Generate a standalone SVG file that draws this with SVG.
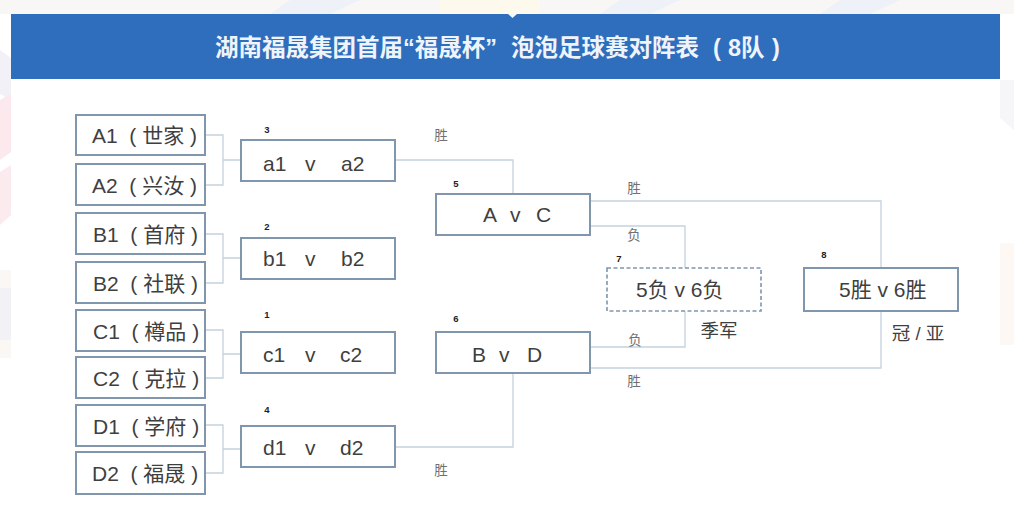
<svg xmlns="http://www.w3.org/2000/svg" width="1014" height="508" viewBox="0 0 1014 508">
<style>
text{font-family:"Liberation Sans","Noto Sans CJK SC",sans-serif;fill:#3f3f3f}
.box{fill:#fff;stroke:#7f96ad;stroke-width:2}
.dash{fill:#fff;stroke:#7f96ad;stroke-width:1.6;stroke-dasharray:4 2.5}
.t{font-size:21px}
.n{font-size:9.5px;font-weight:700;fill:#222;text-anchor:middle}
.l{font-size:13.5px;fill:#707070;text-anchor:middle}
.c{font-size:18.5px;text-anchor:middle}
.con{fill:none;stroke:#c4d2de;stroke-width:1.3}
</style>
<rect width="1014" height="508" fill="#fff"/>
<g id="background">
<rect x="0" y="0" width="1014" height="14" fill="#f9f7f5"/>
<path d="M290 0H360L330 14H270ZM620 0H680L650 14H600ZM840 0H900L870 14H820Z" fill="#eef1f7"/>
<path d="M440 0H540V14H440Z" fill="#fdf9ec"/>
<path d="M0 50L11 58V100L0 94Z" fill="#f3f1f8"/>
<path d="M0 100L11 93V152L0 160Z" fill="#fbe9ee"/>
<path d="M0 172L11 165V215L0 225Z" fill="#fbeaee"/>
<rect x="0" y="270" width="11" height="88" fill="#fbf7f5"/>
<rect x="0" y="288" width="11" height="52" fill="#f1f1f6"/>
<path d="M1000 80H1014V130L1000 118Z" fill="#f6f6f8"/>
<rect x="1000" y="243" width="14" height="102" fill="#fdf8f4"/>
</g>
<g id="title">
<rect x="11" y="14" width="989" height="65" fill="#2f6dbd"/>
<path d="M508 14H517L512.500 18Z" fill="#f4f7fb"/>
<text x="215" y="56" style="font-size:23.500px;font-weight:700;fill:#eef4fa">湖南福晟集团首届“福晟杯”<tspan x="511">泡泡足球赛对阵表</tspan><tspan x="713">(</tspan><tspan x="728">8队</tspan><tspan x="772">)</tspan></text>
</g>
<g id="connectors">
<path class="con" d="M205 135H223V185H205M223 160H241"/>
<path class="con" d="M205 234H223V283H205M223 258H241"/>
<path class="con" d="M205 330H223V378H205M223 354H241"/>
<path class="con" d="M205 425H223V473H205M223 449H241"/>
<path class="con" d="M395 160H513V194"/>
<path class="con" d="M395 447H513V373"/>
<path class="con" d="M590 201H881V268"/>
<path class="con" d="M590 226H685V268"/>
<path class="con" d="M590 347H685V311"/>
<path class="con" d="M590 368H881V311"/>
</g>
<g id="team-a1"><rect class="box" x="76" y="115" width="129" height="40"/><text class="t" x="92" y="143" xml:space="preserve">A1  ( 世家 )</text></g>
<g id="team-a2"><rect class="box" x="76" y="164" width="129" height="41"/><text class="t" x="92" y="193" xml:space="preserve">A2  ( 兴汝 )</text></g>
<g id="team-b1"><rect class="box" x="76" y="213" width="129" height="41"/><text class="t" x="93" y="242" xml:space="preserve">B1  ( 首府 )</text></g>
<g id="team-b2"><rect class="box" x="76" y="262" width="129" height="41"/><text class="t" x="93" y="291" xml:space="preserve">B2  ( 社联 )</text></g>
<g id="team-c1"><rect class="box" x="76" y="310" width="129" height="41"/><text class="t" x="93" y="339" xml:space="preserve">C1  ( 樽品 )</text></g>
<g id="team-c2"><rect class="box" x="76" y="357" width="129" height="41"/><text class="t" x="93" y="386" xml:space="preserve">C2  ( 克拉 )</text></g>
<g id="team-d1"><rect class="box" x="76" y="405" width="129" height="41"/><text class="t" x="93" y="434" xml:space="preserve">D1  ( 学府 )</text></g>
<g id="team-d2"><rect class="box" x="76" y="452" width="129" height="42"/><text class="t" x="92" y="481" xml:space="preserve">D2  ( 福晟 )</text></g>
<g id="match-3"><rect class="box" x="241" y="140" width="154" height="41"/><text class="n" x="267" y="133">3</text><text class="t" y="171"><tspan x="263">a1</tspan><tspan x="305">v</tspan><tspan x="341">a2</tspan></text></g>
<g id="match-2"><rect class="box" x="241" y="238" width="154" height="41"/><text class="n" x="267" y="230">2</text><text class="t" y="266"><tspan x="263">b1</tspan><tspan x="305">v</tspan><tspan x="341">b2</tspan></text></g>
<g id="match-1"><rect class="box" x="241" y="332" width="154" height="41"/><text class="n" x="267" y="318">1</text><text class="t" y="362"><tspan x="263">c1</tspan><tspan x="305">v</tspan><tspan x="340">c2</tspan></text></g>
<g id="match-4"><rect class="box" x="241" y="426" width="154" height="41"/><text class="n" x="267" y="413">4</text><text class="t" y="455"><tspan x="263">d1</tspan><tspan x="305">v</tspan><tspan x="340">d2</tspan></text></g>
<g id="match-5"><rect class="box" x="436" y="194" width="154" height="41"/><text class="n" x="456" y="187">5</text><text class="t" y="222"><tspan x="483">A</tspan><tspan x="510">v</tspan><tspan x="536">C</tspan></text></g>
<g id="match-6"><rect class="box" x="436" y="332" width="154" height="41"/><text class="n" x="456" y="322">6</text><text class="t" y="362"><tspan x="472">B</tspan><tspan x="499">v</tspan><tspan x="527">D</tspan></text></g>
<g id="match-7"><rect class="dash" x="607" y="268" width="154" height="43"/><text class="n" x="619" y="262">7</text><text class="t" x="636" y="297">5负 v 6负</text></g>
<g id="match-8"><rect class="box" x="804" y="268" width="154" height="43"/><text class="n" x="824" y="258">8</text><text class="t" x="839" y="297">5胜 v 6胜</text></g>
<g id="labels">
<text class="l" x="441" y="140">胜</text>
<text class="l" x="441" y="475">胜</text>
<text class="l" x="634" y="193">胜</text>
<text class="l" x="634" y="240">负</text>
<text class="l" x="635" y="345">负</text>
<text class="l" x="634" y="386">胜</text>
<text class="c" x="719" y="337">季军</text>
<text class="c" x="918" y="340">冠 / 亚</text>
</g>
</svg>
